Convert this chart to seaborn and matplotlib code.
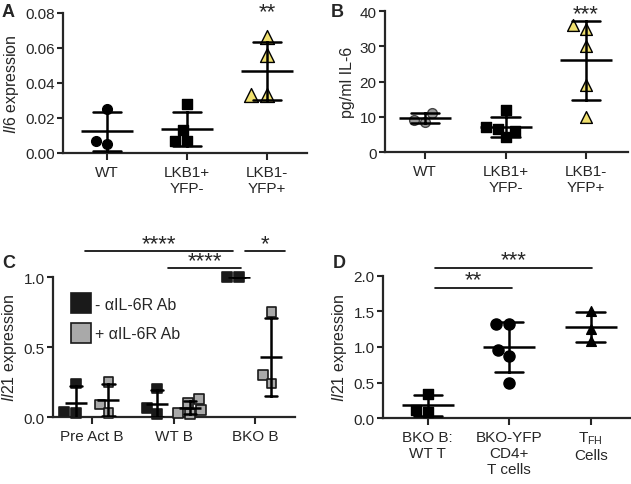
import pandas as pd
import seaborn as sns
import matplotlib.pyplot as plt
from matplotlib.lines import Line2D

sns.set_style("ticks")
plt.rcParams['font.family'] = ['Liberation Sans', 'DejaVu Sans']
plt.rcParams['mathtext.fontset'] = 'custom'
plt.rcParams['mathtext.rm'] = 'Liberation Sans'
plt.rcParams['mathtext.it'] = 'Liberation Sans:italic'

YELLOW = "#f0e06e"

# Panel A - Il6 expression
a_groups = ["WT", "LKB1+\nYFP-", "LKB1-\nYFP+"]
a_wt = [0.025, 0.005, 0.007]
a_pos = [0.028, 0.013, 0.007, 0.007]
a_neg = [0.066, 0.056, 0.033, 0.033]

# Panel B - pg/ml IL-6
b_groups = ["WT", "LKB1+\nYFP-", "LKB1-\nYFP+"]
b_wt = [11.2, 8.6, 9.2]
b_pos = [12.0, 7.0, 6.5, 4.2, 6.0]
b_neg = [36.0, 35.0, 30.0, 19.0, 10.0]

# Panel C - Il21 expression, with / without anti-IL-6R
c_groups = ["Pre Act B", "WT B", "BKO B"]
c_treat = ["- \u03b1IL-6R Ab", "+ \u03b1IL-6R Ab"]
c_minus = {"Pre Act B": [0.24, 0.03, 0.04],
           "WT B": [0.205, 0.064, 0.02],
           "BKO B": [1.0, 1.0]}
c_plus = {"Pre Act B": [0.25, 0.09, 0.03],
          "WT B": [0.13, 0.10, 0.05, 0.02, 0.03],
          "BKO B": [0.75, 0.30, 0.24]}

# Panel D - Il21 expression
d_groups = ["BKO B:\nWT T", "BKO-YFP\nCD4+\nT cells", "T$_{\\mathrm{FH}}$\nCells"]
d_bko = [0.34, 0.084, 0.107]
d_yfp = [1.33, 1.33, 0.96, 0.87, 0.50]
d_tfh = [1.51, 1.26, 1.09]


def long_df(groups, series):
    rows = []
    for g, vals in zip(groups, series):
        for v in vals:
            rows.append({"group": g, "value": v})
    return pd.DataFrame(rows)


def style_axis(ax, xlim, ylim, yticks, fmt, ylabel):
    ax.set_xlim(*xlim)
    ax.set_ylim(*ylim)
    ax.set_yticks(yticks)
    ax.set_yticklabels([fmt.format(t) for t in yticks], fontsize=11)
    ax.tick_params(axis="x", labelsize=11, length=5, width=1.5, direction="out")
    ax.tick_params(axis="y", length=4, width=1.5, direction="out", pad=2)
    for s in ["left", "bottom"]:
        ax.spines[s].set_linewidth(1.6)
    sns.despine(ax=ax)
    ax.set_xlabel("")
    ax.set_ylabel(ylabel, fontsize=11.5, labelpad=3)


def scatter_group(ax, df, groups, g, marker, face, edge, size):
    sns.swarmplot(data=df[df["group"] == g], x="group", y="value", order=groups,
                  marker=marker, color=face, edgecolor=edge, linewidth=1,
                  size=size, ax=ax, legend=False, zorder=3)


def mean_sd(ax, df, groups, width, cap, **kw):
    sns.pointplot(data=df, x="group", y="value", order=groups, errorbar="sd",
                  capsize=cap, color="black", markers="_", markersize=width,
                  markeredgewidth=1.8, linestyle="none",
                  err_kws={"linewidth": 1.8}, ax=ax, zorder=4, **kw)


def stars(ax, x, y, label):
    ax.text(x, y, label, ha="center", va="baseline", fontsize=16, clip_on=False)


def bracket(ax, x0, x1, y, label, ty):
    ax.plot([x0, x1], [y, y], color="black", lw=1.2, clip_on=False)
    stars(ax, (x0 + x1) / 2, ty, label)


fig = plt.figure(figsize=(6.31, 4.85), dpi=100)
axA = fig.add_axes([0.0998, 0.6825, 0.387, 0.2887])
axB = fig.add_axes([0.610, 0.6845, 0.385, 0.2907])
axC = fig.add_axes([0.084, 0.138, 0.3835, 0.2887])
axD = fig.add_axes([0.607, 0.136, 0.391, 0.293])

# ---- A
dfA = long_df(a_groups, [a_wt, a_pos, a_neg])
scatter_group(axA, dfA, a_groups, a_groups[0], "o", "black", "black", 7)
scatter_group(axA, dfA, a_groups, a_groups[1], "s", "black", "black", 7)
scatter_group(axA, dfA, a_groups, a_groups[2], "^", YELLOW, "black", 10)
mean_sd(axA, dfA, a_groups, 38, 0.35)
style_axis(axA, (-0.55, 2.5), (0, 0.08), [0, 0.02, 0.04, 0.06, 0.08], "{:.2f}",
           "$\\mathit{Il6}$ expression")
stars(axA, 2, 0.0775, "**")

# ---- B
dfB = long_df(b_groups, [b_wt, b_pos, b_neg])
scatter_group(axB, dfB, b_groups, b_groups[0], "o", "#9a9a9a", "#444444", 7)
scatter_group(axB, dfB, b_groups, b_groups[1], "s", "black", "black", 7)
scatter_group(axB, dfB, b_groups, b_groups[2], "^", YELLOW, "black", 8.5)
mean_sd(axB, dfB, b_groups, 38, 0.35)
style_axis(axB, (-0.5, 2.52), (0, 40), [0, 10, 20, 30, 40], "{:.0f}", "pg/ml IL-6")
stars(axB, 2, 37.8, "***")

# ---- C
rows = []
for g in c_groups:
    for v in c_minus[g]:
        rows.append({"group": g, "treat": c_treat[0], "value": v})
    for v in c_plus[g]:
        rows.append({"group": g, "treat": c_treat[1], "value": v})
dfC = pd.DataFrame(rows)
pal = {c_treat[0]: "#1a1a1a", c_treat[1]: "#a9a9a9"}
sns.swarmplot(data=dfC, x="group", y="value", hue="treat", order=c_groups,
              hue_order=c_treat, palette=pal, dodge=True, marker="s", size=7,
              edgecolor="#1a1a1a", linewidth=1.2, ax=axC, legend=False, zorder=3)
sns.pointplot(data=dfC, x="group", y="value", hue="treat", order=c_groups,
              hue_order=c_treat, palette={t: "black" for t in c_treat},
              dodge=0.4, errorbar="sd", capsize=0.15, markers="_",
              markersize=16, markeredgewidth=1.8, linestyle="none",
              err_kws={"linewidth": 1.8}, ax=axC, legend=False, zorder=4)
style_axis(axC, (-0.48, 2.49), (0, 1.0), [0, 0.5, 1.0], "{:.1f}",
           "$\\mathit{Il21}$ expression")
for coll in axC.collections:
    coll.set_clip_on(False)
handles = [Line2D([], [], marker="s", linestyle="none", markersize=15,
                  markerfacecolor=pal[t], markeredgecolor="#1a1a1a",
                  markeredgewidth=1.2, label=t) for t in c_treat]
axC.legend(handles=handles, loc="upper left", bbox_to_anchor=(0.05, 0.905),
           frameon=False, fontsize=11.5, handletextpad=0.3, labelspacing=0.9,
           borderaxespad=0, handlelength=1.2)
bracket(axC, -0.09, 1.73, 1.186, "****", 1.2)
bracket(axC, 1.88, 2.37, 1.186, "*", 1.2)
bracket(axC, 0.93, 1.83, 1.064, "****", 1.078)

# ---- D
dfD = long_df(d_groups, [d_bko, d_yfp, d_tfh])
scatter_group(axD, dfD, d_groups, d_groups[0], "s", "black", "black", 7)
scatter_group(axD, dfD, d_groups, d_groups[1], "o", "black", "black", 8)
scatter_group(axD, dfD, d_groups, d_groups[2], "^", "black", "black", 7)
mean_sd(axD, dfD, d_groups, 38, 0.35)
style_axis(axD, (-0.55, 2.48), (0, 2.0), [0, 0.5, 1.0, 1.5, 2.0], "{:.1f}",
           "$\\mathit{Il21}$ expression")
bracket(axD, 0.09, 2.02, 2.11, "***", 2.15)
bracket(axD, 0.09, 1.04, 1.83, "**", 1.87)

# panel letters
for lab, px, py in [("A", 2, 17), ("B", 331, 17), ("C", 2, 268), ("D", 333, 268)]:
    fig.text(px / 631, 1 - py / 485, lab, fontsize=13, fontweight="bold")

fig.savefig("out.png", dpi=100)
